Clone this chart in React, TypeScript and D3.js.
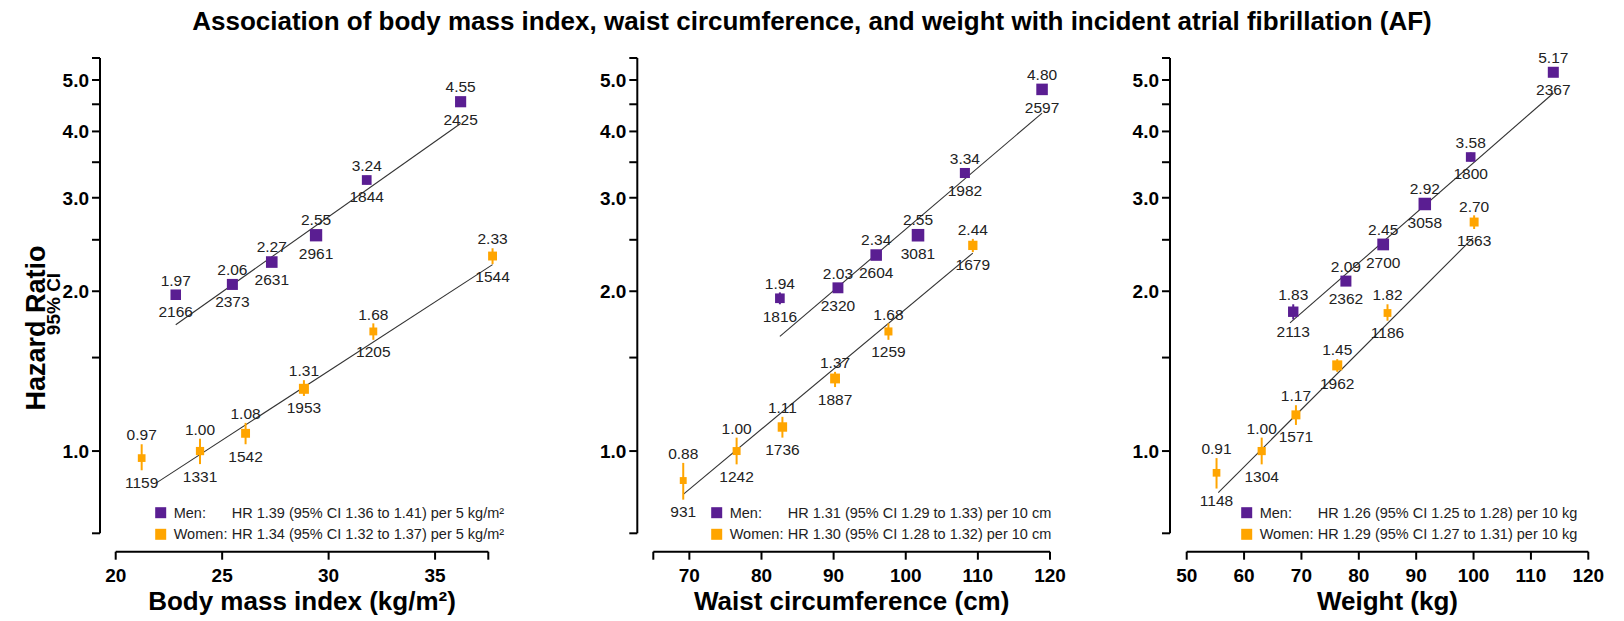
import React from "react";
import * as d3 from "d3";

// ---------- data ----------
const bmiMenX = [22.82, 25.48, 27.33, 29.41, 31.79, 36.2];
const bmiMenHR = [1.97, 2.06, 2.27, 2.55, 3.24, 4.55];
const bmiMenLo = [1.93, 2.02, 2.23, 2.50, 3.18, 4.46];
const bmiMenHi = [2.01, 2.10, 2.31, 2.60, 3.30, 4.64];
const bmiMenN = [2166, 2373, 2631, 2961, 1844, 2425];
const bmiWomenX = [21.22, 23.96, 26.1, 28.84, 32.1, 37.7];
const bmiWomenHR = [0.97, 1.0, 1.08, 1.31, 1.68, 2.33];
const bmiWomenLo = [0.92, 0.945, 1.03, 1.27, 1.62, 2.25];
const bmiWomenHi = [1.03, 1.055, 1.13, 1.36, 1.74, 2.41];
const bmiWomenN = [1159, 1331, 1542, 1953, 1205, 1544];
const bmiMenFit = [[22.82, 1.73], [36.2, 4.14]];
const bmiWomenFit = [[21.93, 0.872], [37.7, 2.245]];

const waistMenX = [82.55, 90.6, 95.9, 101.7, 108.2, 118.9];
const waistMenHR = [1.94, 2.03, 2.34, 2.55, 3.34, 4.8];
const waistMenLo = [1.89, 1.99, 2.29, 2.50, 3.27, 4.70];
const waistMenHi = [1.99, 2.07, 2.39, 2.60, 3.41, 4.90];
const waistMenN = [1816, 2320, 2604, 3081, 1982, 2597];
const waistWomenX = [69.15, 76.55, 82.9, 90.2, 97.6, 109.3];
const waistWomenHR = [0.88, 1.0, 1.11, 1.37, 1.68, 2.44];
const waistWomenLo = [0.81, 0.944, 1.06, 1.32, 1.62, 2.37];
const waistWomenHi = [0.95, 1.06, 1.16, 1.41, 1.74, 2.51];
const waistWomenN = [931, 1242, 1736, 1887, 1259, 1679];
const waistMenFit = [[82.55, 1.645], [118.9, 4.33]];
const waistWomenFit = [[69.15, 0.829], [109.3, 2.36]];

const weightMenX = [68.57, 77.75, 84.25, 91.5, 99.5, 113.9];
const weightMenHR = [1.83, 2.09, 2.45, 2.92, 3.58, 5.17];
const weightMenLo = [1.77, 2.05, 2.40, 2.86, 3.51, 5.07];
const weightMenHi = [1.89, 2.13, 2.50, 2.98, 3.65, 5.27];
const weightMenN = [2113, 2362, 2700, 3058, 1800, 2367];
const weightWomenX = [55.2, 63.07, 69.04, 76.24, 85.0, 100.1];
const weightWomenHR = [0.91, 1.0, 1.17, 1.45, 1.82, 2.7];
const weightWomenLo = [0.85, 0.944, 1.12, 1.41, 1.76, 2.62];
const weightWomenHi = [0.97, 1.06, 1.22, 1.49, 1.89, 2.78];
const weightWomenN = [1148, 1304, 1571, 1962, 1186, 1563];
const weightMenFit = [[68.0, 1.743], [113.9, 4.72]];
const weightWomenFit = [[55.5, 0.835], [99.9, 2.52]];

const yTicks = [0.7, 1.0, 1.5, 2.0, 2.5, 3.0, 3.5, 4.0, 4.5, 5.0, 5.5];
const yTickLabels = [1.0, 2.0, 3.0, 4.0, 5.0];
const bmiTicks = [20, 25, 30, 35, 37.5];
const bmiTickLabels = [20, 25, 30, 35];
const waistTicks = [65, 70, 80, 90, 100, 110, 120];
const waistTickLabels = [70, 80, 90, 100, 110, 120];
const weightTicks = [50, 60, 70, 80, 90, 100, 110, 120];
const weightTickLabels = [50, 60, 70, 80, 90, 100, 110, 120];

const bmiLegend = ["HR 1.39 (95% CI 1.36 to 1.41) per 5 kg/m²", "HR 1.34 (95% CI 1.32 to 1.37) per 5 kg/m²"];
const waistLegend = ["HR 1.31 (95% CI 1.29 to 1.33) per 10 cm", "HR 1.30 (95% CI 1.28 to 1.32) per 10 cm"];
const weightLegend = ["HR 1.26 (95% CI 1.25 to 1.28) per 10 kg", "HR 1.29 (95% CI 1.27 to 1.31) per 10 kg"];

const TITLE = "Association of body mass index, waist circumference, and weight with incident atrial fibrillation (AF)";

// ---------- style ----------
const PURPLE = "#5a1e92";
const ORANGE = "#ffa500";
const FONT = "'Liberation Sans', Arial, Helvetica, sans-serif";
const Y_TOP = 58;
const Y_BOT = 533.3;
const X_AXIS_Y = 551.7;

const yScale = d3.scaleLog().domain([0.7, 5.5]).range([Y_BOT, Y_TOP]);
const sizeScale = d3.scaleSqrt().domain([0, 3100]).range([0, 12.6]);

type Series = { x: number[]; hr: number[]; lo: number[]; hi: number[]; n: number[]; fit: number[][]; color: string };

function SeriesMarks({ s, xs }: { s: Series; xs: d3.ScaleLinear<number, number> }) {
  const line = d3.line<number[]>().x((d) => xs(d[0])).y((d) => yScale(d[1]));
  return (
    <g>
      <path d={line(s.fit) || ""} stroke="#333" strokeWidth={1.1} fill="none" />
      {s.x.map((xv, i) => {
        const cx = xs(xv);
        const cy = yScale(s.hr[i]);
        const sz = sizeScale(s.n[i]);
        const yHi = yScale(s.hi[i]);
        const yLo = yScale(s.lo[i]);
        const top = Math.min(yHi, cy - sz / 2);
        const bot = Math.max(yLo, cy + sz / 2);
        return (
          <g key={i}>
            <line x1={cx} x2={cx} y1={yHi} y2={yLo} stroke={s.color} strokeWidth={2} />
            <rect x={cx - sz / 2} y={cy - sz / 2} width={sz} height={sz} fill={s.color} />
            <text x={cx} y={top - 3.8} textAnchor="middle" fontSize={15.5} fill="#222" fontFamily={FONT}>
              {s.hr[i].toFixed(2)}
            </text>
            <text x={cx} y={bot + 17.5} textAnchor="middle" fontSize={15.5} fill="#222" fontFamily={FONT}>
              {s.n[i]}
            </text>
          </g>
        );
      })}
    </g>
  );
}

function Panel(props: {
  yAxisX: number;
  xRange: [number, number];
  xDomain: [number, number];
  xTicks: number[];
  xTickLabels: number[];
  xTitle: string;
  men: Series;
  women: Series;
  legend: string[];
  legendX: number;
}) {
  const { yAxisX, xRange, xDomain, xTicks, xTickLabels, xTitle, men, women, legend, legendX } = props;
  const xs = d3.scaleLinear().domain(xDomain).range(xRange);
  return (
    <g>
      {/* y axis */}
      <line x1={yAxisX} x2={yAxisX} y1={Y_TOP} y2={Y_BOT} stroke="#000" strokeWidth={2} />
      {yTicks.map((t) => (
        <line key={t} x1={yAxisX - 8} x2={yAxisX} y1={yScale(t)} y2={yScale(t)} stroke="#000" strokeWidth={2} />
      ))}
      {yTickLabels.map((t) => (
        <text key={t} x={yAxisX - 11} y={yScale(t) + 7} textAnchor="end" fontSize={19} fontWeight="bold" fontFamily={FONT}>
          {t.toFixed(1)}
        </text>
      ))}
      {/* x axis */}
      <line x1={xs(xDomain[0])} x2={xs(xDomain[1])} y1={X_AXIS_Y} y2={X_AXIS_Y} stroke="#000" strokeWidth={2} />
      {xTicks.map((t) => (
        <line key={t} x1={xs(t)} x2={xs(t)} y1={X_AXIS_Y} y2={X_AXIS_Y + 8} stroke="#000" strokeWidth={2} />
      ))}
      {xTickLabels.map((t) => (
        <text key={t} x={xs(t)} y={X_AXIS_Y + 30} textAnchor="middle" fontSize={19} fontWeight="bold" fontFamily={FONT}>
          {t}
        </text>
      ))}
      <text x={(xRange[0] + xRange[1]) / 2} y={610} textAnchor="middle" fontSize={26} fontWeight="bold" fontFamily={FONT}>
        {xTitle}
      </text>
      <SeriesMarks s={women} xs={xs} />
      <SeriesMarks s={men} xs={xs} />
      {/* legend */}
      <rect x={legendX - 5.5} y={512.7 - 5.5} width={11} height={11} fill={PURPLE} />
      <rect x={legendX - 5.5} y={534.3 - 5.5} width={11} height={11} fill={ORANGE} />
      <text x={legendX + 13} y={517.7} fontSize={14.5} fontFamily={FONT} fill="#222">Men:</text>
      <text x={legendX + 71} y={517.7} fontSize={14.5} fontFamily={FONT} fill="#222">{legend[0]}</text>
      <text x={legendX + 13} y={539.3} fontSize={14.5} fontFamily={FONT} fill="#222">Women:</text>
      <text x={legendX + 71} y={539.3} fontSize={14.5} fontFamily={FONT} fill="#222">{legend[1]}</text>
    </g>
  );
}

export default function App() {
  return (
    <svg width={1624} height={621} style={{ position: "absolute", left: 0, top: 0, background: "#fff" }}>
      <rect width={1624} height={621} fill="#fff" />
      <text x={812} y={29.5} textAnchor="middle" fontSize={26} fontWeight="bold" fontFamily={FONT}>
        {TITLE}
      </text>
      <text transform="translate(45,328) rotate(-90)" textAnchor="middle" fontSize={27} fontWeight="bold" fontFamily={FONT}>
        Hazard Ratio
      </text>
      <text transform="translate(60,304) rotate(-90)" textAnchor="middle" fontSize={19} fontWeight="bold" fontFamily={FONT}>
        95% CI
      </text>
      <Panel
        yAxisX={100}
        xRange={[115.7, 488.3]}
        xDomain={[20, 37.5]}
        xTicks={bmiTicks}
        xTickLabels={bmiTickLabels}
        xTitle="Body mass index (kg/m²)"
        men={{ x: bmiMenX, hr: bmiMenHR, lo: bmiMenLo, hi: bmiMenHi, n: bmiMenN, fit: bmiMenFit, color: PURPLE }}
        women={{ x: bmiWomenX, hr: bmiWomenHR, lo: bmiWomenLo, hi: bmiWomenHi, n: bmiWomenN, fit: bmiWomenFit, color: ORANGE }}
        legend={bmiLegend}
        legendX={160.7}
      />
      <Panel
        yAxisX={637.3}
        xRange={[653.3, 1050]}
        xDomain={[65, 120]}
        xTicks={waistTicks}
        xTickLabels={waistTickLabels}
        xTitle="Waist circumference (cm)"
        men={{ x: waistMenX, hr: waistMenHR, lo: waistMenLo, hi: waistMenHi, n: waistMenN, fit: waistMenFit, color: PURPLE }}
        women={{ x: waistWomenX, hr: waistWomenHR, lo: waistWomenLo, hi: waistWomenHi, n: waistWomenN, fit: waistWomenFit, color: ORANGE }}
        legend={waistLegend}
        legendX={716.7}
      />
      <Panel
        yAxisX={1170}
        xRange={[1186.7, 1588.3]}
        xDomain={[50, 120]}
        xTicks={weightTicks}
        xTickLabels={weightTickLabels}
        xTitle="Weight (kg)"
        men={{ x: weightMenX, hr: weightMenHR, lo: weightMenLo, hi: weightMenHi, n: weightMenN, fit: weightMenFit, color: PURPLE }}
        women={{ x: weightWomenX, hr: weightWomenHR, lo: weightWomenLo, hi: weightWomenHi, n: weightWomenN, fit: weightWomenFit, color: ORANGE }}
        legend={weightLegend}
        legendX={1246.7}
      />
    </svg>
  );
}
